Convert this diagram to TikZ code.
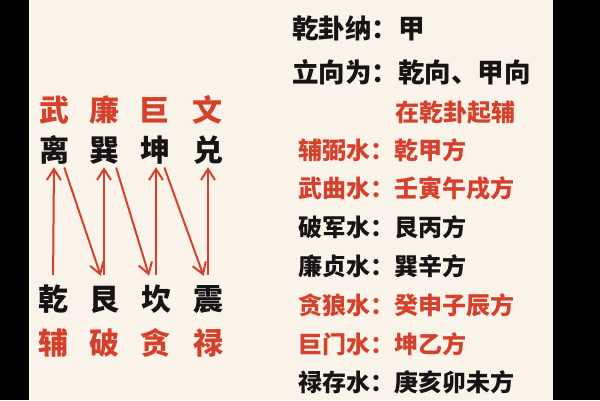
\documentclass[tikz,border=0pt]{standalone}
\usepackage{fontspec}
\newfontfamily\cjk{Noto Sans CJK SC}
\usetikzlibrary{arrows.meta}
\definecolor{bg}{RGB}{250,243,234}
\definecolor{hong}{RGB}{212,66,46}
\definecolor{mo}{RGB}{22,20,20}
\tikzset{
  gua/.style={font=\cjk\bfseries\fontsize{30bp}{30bp}\selectfont,inner sep=0pt,
    text height=25bp,text depth=2bp,text=mo},
  xing/.style={gua,text=hong},
  fang/.style={font=\cjk\bfseries\fontsize{24bp}{24bp}\selectfont,inner sep=0pt,
    text height=20bp,text depth=1.7bp,anchor=west,text=mo},
  tou/.style={fang,font=\cjk\bfseries\fontsize{26.5bp}{26.5bp}\selectfont,
    text height=22bp,text depth=1.9bp},
  flow/.style={hong,line width=2bp,-{Straight Barb[length=11bp,width=14bp]}},
  shang/.style={flow,shorten <=10.5bp,shorten >=3.5bp},
  xia/.style={flow,shorten <=4bp,shorten >=10bp}
}
\begin{document}
\begin{tikzpicture}[x=1bp,y=1bp]
\fill[bg] (0,0) rectangle (600,400);
\fill[black] (0,0) rectangle (29,400);
\fill[black] (553,0) rectangle (600,400);
% top row
\node[xing] (wu)   at (54,290)  {武};
\node[xing] (lian) at (104,290) {廉};
\node[xing] (ju)   at (154,290) {巨};
\node[xing] (wen)  at (207,290) {文};
\node[gua] (li)   at (54,250)  {离};
\node[gua] (xun)  at (104,250) {巽};
\node[gua] (kun)  at (155,250) {坤};
\node[gua] (dui)  at (208,250) {兑};
% bottom row
\node[gua] (qian) at (53,101)  {乾};
\node[gua] (gen)  at (104,101) {艮};
\node[gua] (kan)  at (156,101) {坎};
\node[gua] (zhen) at (208,101) {震};
\node[xing] (fu)  at (53,57)   {辅};
\node[xing] (po)  at (104,57)  {破};
\node[xing] (tan) at (155,57)  {贪};
\node[xing] (lu)  at (208,57)  {禄};
% zigzag
\draw[shang] (qian.north) -- (li.south);
\draw[xia] ([xshift=9bp]li.south) -- (gen.north);
\draw[shang] (gen.north) -- (xun.south);
\draw[xia] ([xshift=11bp]xun.south) -- ([xshift=-4bp]kan.north);
\draw[shang] (kan.north) -- ([xshift=1bp]kun.south);
\draw[xia] ([xshift=8bp]kun.south) -- ([xshift=-1bp]zhen.north);
\draw[shang] (zhen.north) -- (dui.south);
% right column
\node[tou] (na)    at (292,372) {乾卦纳：甲};
\node[tou] (xiang) at (292,328) {立向为：乾向、甲向};
\node[fang,text=hong] (qi) at (395,288) {在乾卦起辅};
\foreach \txt/\col [count=\i from 0] in {辅弼水：乾甲方/hong,武曲水：壬寅午戌方/hong,
    破军水：艮丙方/mo,廉贞水：巽辛方/mo,贪狼水：癸申子辰方/hong,
    巨门水：坤乙方/hong,禄存水：庚亥卯未方/mo}
  \node[fang,text=\col] (s\i) at (298,{250-38.8*\i}) {\txt};
\end{tikzpicture}
\end{document}
